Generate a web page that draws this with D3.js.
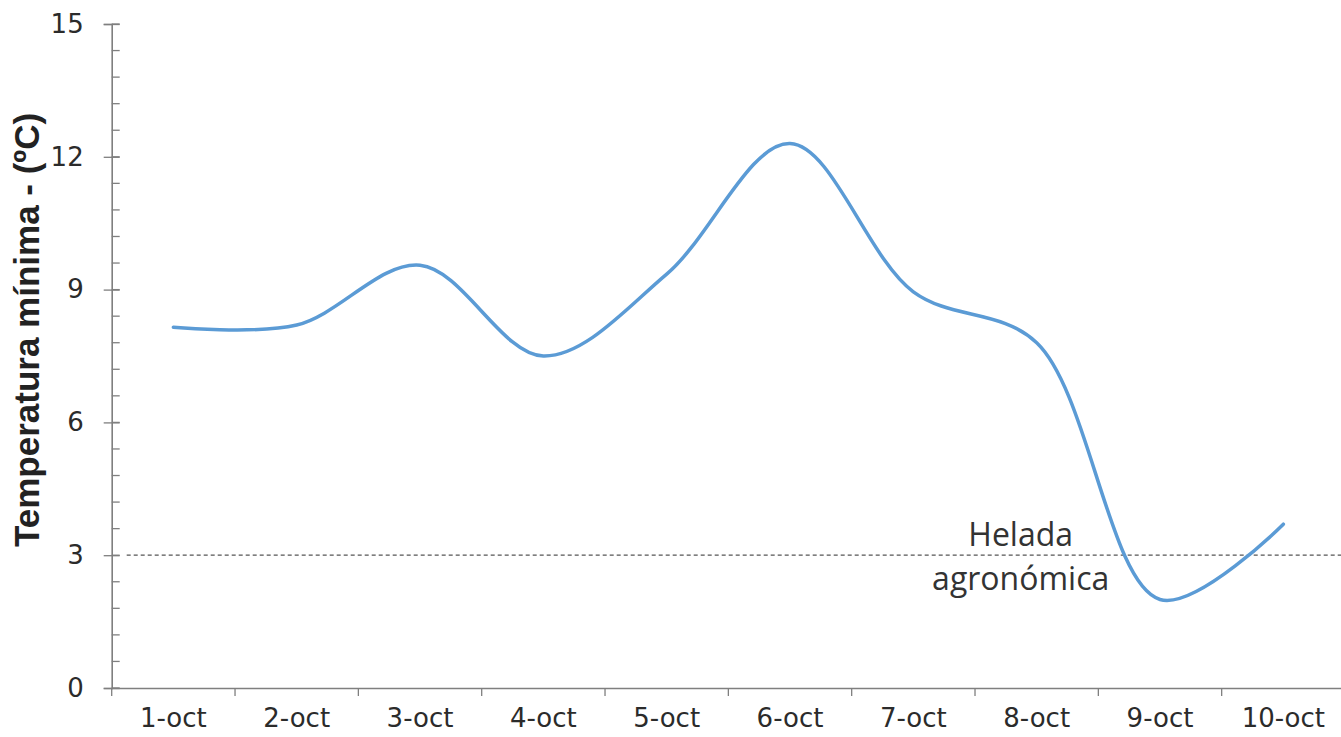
<!DOCTYPE html>
<html>
<head>
<meta charset="utf-8">
<script src="https://cdn.jsdelivr.net/npm/d3@7"></script>
<style>
  body { margin: 0; background: #fff; }
  svg { display: block; }
</style>
</head>
<body>
<svg id="chart" width="1341" height="737"></svg>
<script>
// data
const days = ["1-oct", "2-oct", "3-oct", "4-oct", "5-oct", "6-oct", "7-oct", "8-oct", "9-oct", "10-oct"];
const minTemp = [8.15, 8.2, 9.55, 7.5, 9.35, 12.3, 8.95, 7.8, 2.0, 3.7];
const yTicks = [0, 3, 6, 9, 12, 15];
const frostLevel = 3;
const frostLabel = ["Helada", "agronómica"];
const yTitle = "Temperatura mínima - (ºC)";

const config = {
  width: 1341,
  height: 737,
  margin: { top: 24, right: -4, bottom: 49, left: 111.7 }
};

const svg = d3.select('#chart');
const innerW = config.width - config.margin.left - config.margin.right;
const innerH = config.height - config.margin.top - config.margin.bottom;

const chart = svg.append('g')
    .attr('transform', `translate(${config.margin.left},${config.margin.top})`);

const x = d3.scaleBand().domain(days).range([0, innerW]).padding(0);
const y = d3.scaleLinear().domain([0, 15]).range([innerH, 0]);

const axisColor = '#7f7f7f';
const labelColor = '#2b2b2b';
const tickFont = "'DejaVu Sans', Verdana, sans-serif";

// minor y ticks (every 0.6) drawn inside the plot
const minorTicks = d3.range(0, 15.001, 0.6);
chart.append('g')
    .selectAll('line')
    .data(minorTicks)
    .join('line')
    .attr('x1', 0)
    .attr('x2', 8)
    .attr('y1', d => y(d))
    .attr('y2', d => y(d))
    .attr('stroke', axisColor)
    .attr('stroke-width', 1.3);

// y axis with major ticks crossing the line
const yAxis = chart.append('g')
    .call(d3.axisLeft(y).tickValues(yTicks).tickSize(8).tickPadding(20));
yAxis.select('.domain').attr('stroke', axisColor).attr('stroke-width', 1.6);
yAxis.selectAll('.tick line')
    .attr('x2', -8).attr('x1', 8)
    .attr('stroke', axisColor).attr('stroke-width', 1.3);
yAxis.selectAll('.tick text')
    .attr('fill', labelColor)
    .style('font-family', tickFont)
    .style('font-size', '26px');

// x axis, ticks on band boundaries
const xAxis = chart.append('g')
    .attr('transform', `translate(0,${innerH})`)
    .call(d3.axisBottom(x).tickSize(0).tickPadding(21));
xAxis.select('.domain').attr('stroke', axisColor).attr('stroke-width', 1.6);
xAxis.selectAll('.tick text')
    .attr('fill', labelColor)
    .style('font-family', tickFont)
    .style('font-size', '26px');

chart.append('g')
    .selectAll('line')
    .data(days)
    .join('line')
    .attr('x1', d => x(d))
    .attr('x2', d => x(d))
    .attr('y1', innerH)
    .attr('y2', innerH + 8)
    .attr('stroke', axisColor)
    .attr('stroke-width', 1.3);

// frost threshold
chart.append('line')
    .attr('x1', 15)
    .attr('x2', innerW)
    .attr('y1', y(frostLevel))
    .attr('y2', y(frostLevel))
    .attr('stroke', '#555')
    .attr('stroke-width', 1.3)
    .attr('stroke-dasharray', '4,3');

chart.append('text')
    .attr('x', 909)
    .attr('y', y(frostLevel))
    .attr('text-anchor', 'middle')
    .style('font-family', "'Open Sans', sans-serif")
    .style('font-size', '32px')
    .attr('fill', '#333')
    .selectAll('tspan')
    .data(frostLabel)
    .join('tspan')
    .attr('x', 909)
    .attr('dy', (d, i) => i === 0 ? -9 : 44)
    .text(d => d);

// temperature line
const line = d3.line()
    .x((d, i) => x(days[i]) + x.bandwidth() / 2)
    .y(d => y(d))
    .curve(d3.curveCatmullRom.alpha(0.5));

chart.append('path')
    .datum(minTemp)
    .attr('fill', 'none')
    .attr('stroke', '#5b9bd5')
    .attr('stroke-width', 3.5)
    .attr('stroke-linecap', 'round')
    .attr('d', line);

// y axis title
svg.append('text')
    .attr('transform', `translate(39,${(112 + 548) / 2}) rotate(-90)`)
    .attr('text-anchor', 'middle')
    .style('font-family', "'Liberation Sans', Arial, sans-serif")
    .style('font-weight', 'bold')
    .style('font-size', '35px')
    .attr('fill', '#222')
    .text(yTitle);
</script>
</body>
</html>
